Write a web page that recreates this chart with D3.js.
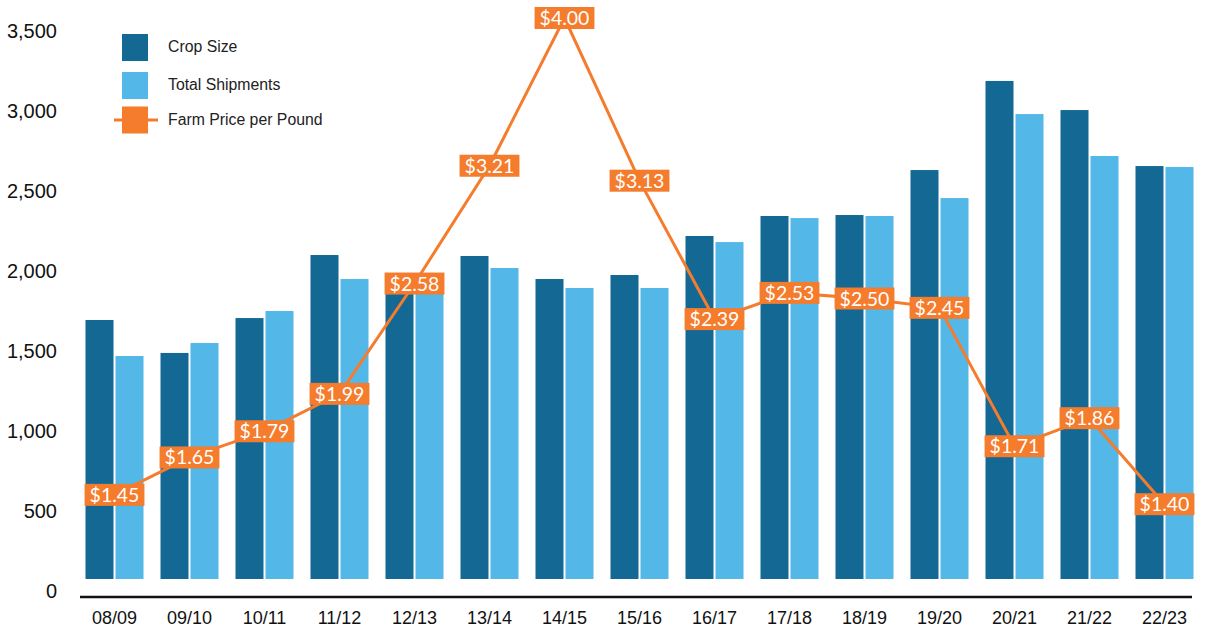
<!DOCTYPE html>
<html>
<head>
<meta charset="utf-8">
<script src="https://cdn.jsdelivr.net/npm/d3@7"></script>
<style>
  body { margin: 0; background: #fff; }
  svg { display: block; }
</style>
</head>
<body>
<script>
// season labels, crop/shipments (y axis units) and farm price ($/lb)
var seasons = ['08/09', '09/10', '10/11', '11/12', '12/13', '13/14', '14/15', '15/16',
               '16/17', '17/18', '18/19', '19/20', '20/21', '21/22', '22/23'];
var cropSize = [1697, 1491, 1709, 2103, 1966, 2097, 1953, 1978,
                2222, 2347, 2353, 2634, 3191, 3009, 2659];
var shipments = [1472, 1553, 1753, 1953, 1947, 2022, 1897, 1897,
                 2184, 2334, 2347, 2459, 2984, 2722, 2653];
var price = [1.45, 1.65, 1.79, 1.99, 2.58, 3.21, 4.00, 3.13,
             2.39, 2.53, 2.50, 2.45, 1.71, 1.86, 1.40];
var yTicks = [0, 500, 1000, 1500, 2000, 2500, 3000, 3500];
var legendItems = ['Crop Size', 'Total Shipments', 'Farm Price per Pound'];

var W = 1205, H = 631;
var dark = '#136993', light = '#53b8e8', orange = '#f47c2c';

var svg = d3.select('body').append('svg')
  .attr('width', W)
  .attr('height', H);

var x = d3.scaleBand().domain(seasons).range([77, 1202])
  .paddingInner(17 / 75).paddingOuter(17 / 150);
var x1 = d3.scaleBand().domain(['crop', 'ship']).range([0, x.bandwidth()])
  .paddingInner(2 / 30);
var y = d3.scaleLinear().domain([0, 3500]).range([591.5, 31.5]);
var yPrice = d3.scaleLinear().domain([0, 4]).range([766, 18]);
var base = y(0) - 12.5; // bars stop a little above the zero label

// y axis labels
var yAxis = svg.append('g')
  .attr('transform', 'translate(57,0)')
  .call(d3.axisLeft(y).tickValues(yTicks).tickFormat(d3.format(',')).tickSize(0).tickPadding(0));
yAxis.select('.domain').remove();
yAxis.selectAll('text')
  .style('font-family', 'Liberation Sans, Helvetica, Arial, sans-serif')
  .style('font-size', '20px')
  .style('fill', '#111');

// bars
var groups = svg.append('g').selectAll('g')
  .data(seasons)
  .enter().append('g')
    .attr('transform', function(d) { return 'translate(' + x(d) + ',0)'; });

groups.append('rect')
  .attr('x', x1('crop'))
  .attr('width', x1.bandwidth())
  .attr('y', function(d, i) { return y(cropSize[i]); })
  .attr('height', function(d, i) { return base - y(cropSize[i]); })
  .attr('fill', dark);

groups.append('rect')
  .attr('x', x1('ship'))
  .attr('width', x1.bandwidth())
  .attr('y', function(d, i) { return y(shipments[i]); })
  .attr('height', function(d, i) { return base - y(shipments[i]); })
  .attr('fill', light);

// x axis
var xAxis = svg.append('g')
  .attr('transform', 'translate(0,597)')
  .call(d3.axisBottom(x).tickSize(0).tickPadding(14));
xAxis.select('.domain').remove();
xAxis.selectAll('text')
  .style('font-family', 'Liberation Sans, Helvetica, Arial, sans-serif')
  .style('font-size', '18px')
  .style('fill', '#111');
xAxis.append('line')
  .attr('x1', 80).attr('x2', 1192)
  .attr('y1', 0).attr('y2', 0)
  .attr('stroke', '#111')
  .attr('stroke-width', 2.5);

// price line
var cx = function(i) { return x(seasons[i]) + x.bandwidth() / 2; };
var line = d3.line()
  .x(function(d, i) { return cx(i); })
  .y(function(d) { return yPrice(d); });

svg.append('path')
  .datum(price)
  .attr('d', line)
  .attr('fill', 'none')
  .attr('stroke', orange)
  .attr('stroke-width', 3);

var labels = svg.append('g').selectAll('g')
  .data(price)
  .enter().append('g')
    .attr('transform', function(d, i) { return 'translate(' + cx(i) + ',' + yPrice(d) + ')'; });

labels.append('rect')
  .attr('fill', orange);

labels.append('text')
  .attr('text-anchor', 'middle')
  .attr('dy', '0.36em')
  .style('font-family', 'Lato, sans-serif')
  .style('font-size', '19.5px')
  .style('fill', '#fff')
  .text(function(d) { return '$' + d.toFixed(2); });

labels.each(function() {
  var g = d3.select(this);
  var w = g.select('text').node().getComputedTextLength() + 10;
  g.select('rect')
    .attr('x', -w / 2).attr('width', w)
    .attr('y', -11).attr('height', 22);
});

// legend
var legend = svg.append('g');
var ly = [47.5, 85.5, 120];
legendItems.forEach(function(name, i) {
  if (i == 2) {
    legend.append('line')
      .attr('x1', 114).attr('x2', 158)
      .attr('y1', ly[i]).attr('y2', ly[i])
      .attr('stroke', orange)
      .attr('stroke-width', 3);
  }
  legend.append('rect')
    .attr('x', 122).attr('y', ly[i] - 13.5)
    .attr('width', 26).attr('height', 27)
    .attr('fill', [dark, light, orange][i]);
  legend.append('text')
    .attr('x', 168).attr('y', ly[i] - 1)
    .attr('dy', '0.35em')
    .style('font-family', 'Liberation Sans, Helvetica, Arial, sans-serif')
    .style('font-size', '15.8px')
    .style('fill', '#222')
    .text(name);
});
</script>
</body>
</html>
